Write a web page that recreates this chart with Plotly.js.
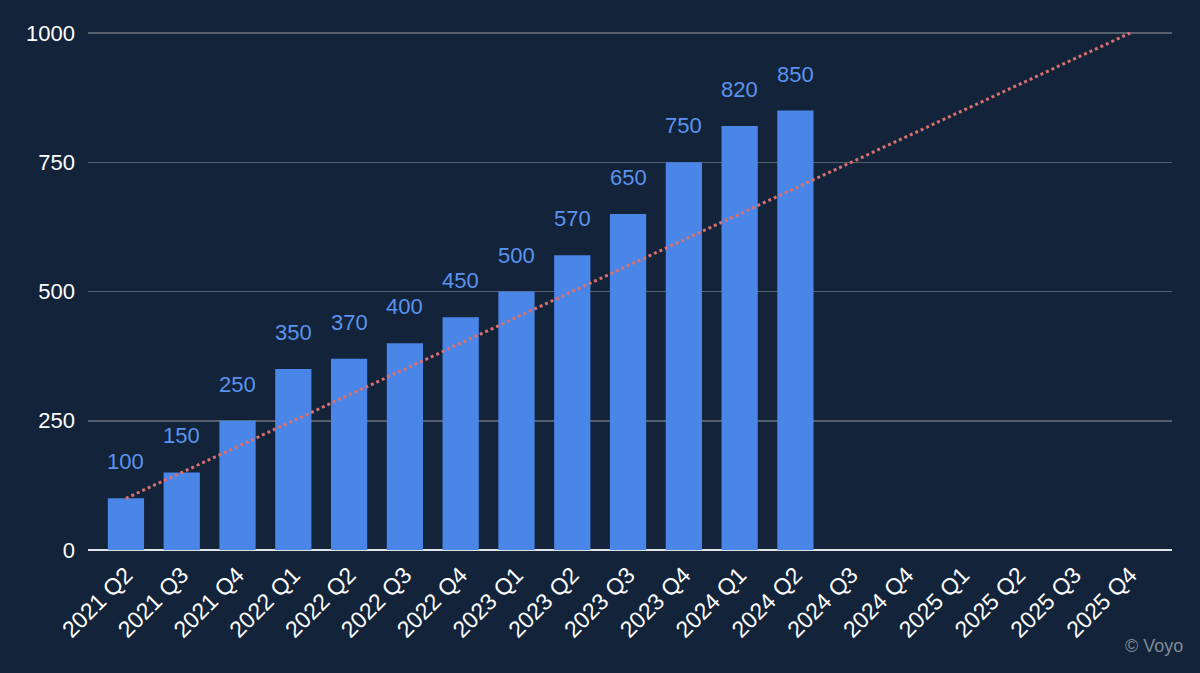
<!DOCTYPE html>
<html>
<head>
<meta charset="utf-8">
<script src="https://cdn.plot.ly/plotly-3.0.1.min.js"></script>
<style>
  html, body { margin: 0; padding: 0; background: #12233a; }
  #graph { width: 1200px; height: 673px; }
</style>
</head>
<body>
<div id="graph"></div>
<script>
// quarters on the x axis
var quarters = ['2021 Q2', '2021 Q3', '2021 Q4', '2022 Q1', '2022 Q2', '2022 Q3', '2022 Q4',
                '2023 Q1', '2023 Q2', '2023 Q3', '2023 Q4', '2024 Q1', '2024 Q2',
                '2024 Q3', '2024 Q4', '2025 Q1', '2025 Q2', '2025 Q3', '2025 Q4'];
// reported values (only up to 2024 Q2)
var barQuarters = quarters.slice(0, 13);
var values = [100, 150, 250, 350, 370, 400, 450, 500, 570, 650, 750, 820, 850];
// trend line end points
var trendX = ['2021 Q2', '2025 Q4'];
var trendY = [100, 1000];
var yTicks = [0, 250, 500, 750, 1000];

var font = 'Liberation Sans, Arial, sans-serif';

var bars = {
    type: 'bar',
    x: barQuarters,
    y: values,
    width: 0.65,
    marker: { color: '#4a86e8' },
    hoverinfo: 'x+y'
};

var trend = {
    type: 'scatter',
    mode: 'lines',
    x: trendX,
    y: trendY,
    line: { color: '#d9706e', width: 3, dash: 'dot' },
    cliponaxis: false
};

// value labels above each bar
var labels = barQuarters.map(function (q, i) {
    return {
        x: q, y: values[i], text: String(values[i]),
        showarrow: false, yanchor: 'bottom', yshift: 22,
        font: { family: font, size: 22, color: '#5b93ee' }
    };
});

labels.push({
    xref: 'paper', yref: 'paper', x: 1.012, y: -0.185,
    xanchor: 'right', yanchor: 'middle', showarrow: false,
    text: '© Voyo',
    font: { family: font, size: 18, color: '#7f8a98' }
});

var layout = {
    width: 1200,
    height: 673,
    paper_bgcolor: '#12233a',
    plot_bgcolor: '#12233a',
    margin: { l: 88, r: 28, t: 32, b: 123 },
    showlegend: false,
    font: { family: font, color: '#ffffff', size: 22 },
    xaxis: {
        type: 'category',
        categoryorder: 'array',
        categoryarray: quarters,
        range: [-0.68, 18.75],
        tickangle: -45,
        showgrid: false,
        zeroline: false,
        showline: false,
        ticks: '',
        ticklabelstandoff: 6,
        tickfont: { family: font, size: 23, color: '#ffffff' }
    },
    yaxis: {
        range: [0, 1002],
        tickvals: yTicks,
        ticktext: yTicks.map(String),
        showgrid: true,
        gridcolor: '#56606e',
        gridwidth: 1.5,
        zeroline: true,
        zerolinecolor: '#dfe3e8',
        zerolinewidth: 2,
        ticks: '',
        ticklabelstandoff: 12,
        tickfont: { family: font, size: 22, color: '#ffffff' }
    },
    annotations: labels
};

Plotly.newPlot('graph', [bars, trend], layout, { staticPlot: true });
</script>
</body>
</html>
